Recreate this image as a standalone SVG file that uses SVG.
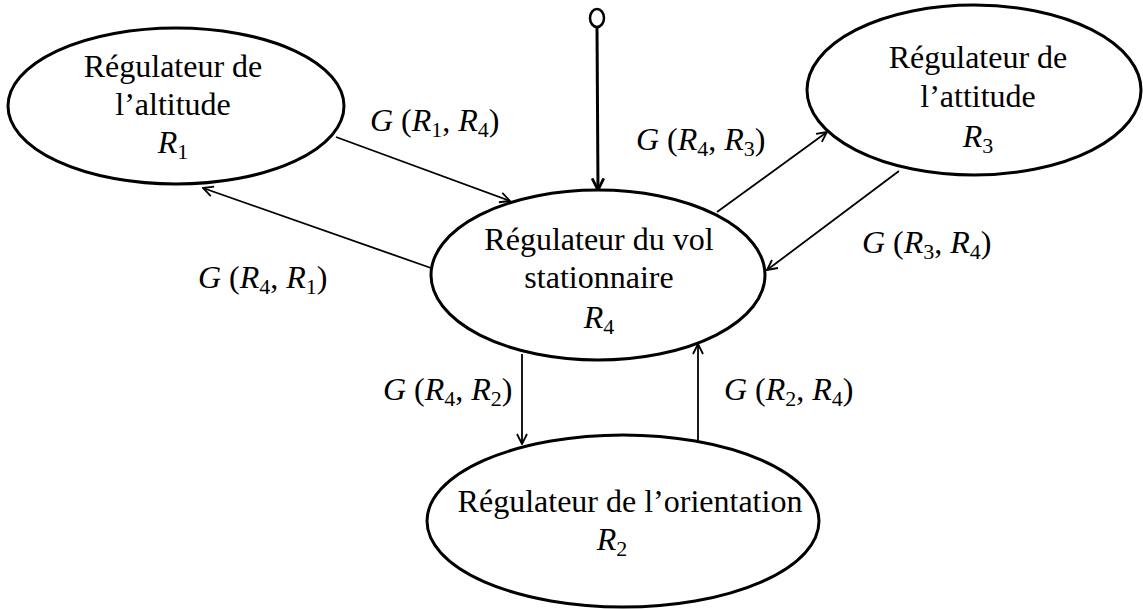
<svg xmlns="http://www.w3.org/2000/svg" width="1143" height="609" viewBox="0 0 1143 609">
<style>
.node{fill:#fff;stroke:#000;stroke-width:3}
.t{font-family:"Liberation Serif","Times New Roman",serif;font-size:32px;fill:#000;text-anchor:middle}
.m{font-family:"Liberation Serif","Times New Roman",serif;font-size:32px;fill:#000}
.i{font-style:italic}
.s{font-size:22px}
.c{fill:none;stroke:#000;stroke-width:1.8}
</style>
<defs>
<marker id="arr" viewBox="0 0 12 12" refX="11" refY="6" markerWidth="12" markerHeight="12" markerUnits="userSpaceOnUse" orient="auto">
<path d="M1,1 L11,6 L1,11" fill="none" stroke="#000" stroke-width="1.8"/>
</marker>
<marker id="arr2" viewBox="0 0 12 12" refX="11" refY="6" markerWidth="14" markerHeight="14" markerUnits="userSpaceOnUse" orient="auto">
<path d="M1,1 L11,6 L1,11" fill="none" stroke="#000" stroke-width="2.4"/>
</marker>
</defs>
<rect width="1143" height="609" fill="#fff"/>
<g id="connectors">
<ellipse cx="597" cy="18" rx="7" ry="9" fill="#fff" stroke="#000" stroke-width="2.5"/>
<line x1="597" y1="27" x2="598" y2="190" stroke="#000" stroke-width="3" marker-end="url(#arr2)"/>
<line class="c" x1="336" y1="137" x2="510" y2="201" marker-end="url(#arr)"/>
<line class="c" x1="431" y1="268" x2="203" y2="188" marker-end="url(#arr)"/>
<line class="c" x1="717" y1="212" x2="827" y2="132" marker-end="url(#arr)"/>
<line class="c" x1="899" y1="171" x2="767" y2="270" marker-end="url(#arr)"/>
<line class="c" x1="522" y1="354" x2="522" y2="444" marker-end="url(#arr)"/>
<line class="c" x1="698" y1="440" x2="698" y2="344" marker-end="url(#arr)"/>
<text class="m" x="370" y="131"><tspan class="i">G</tspan> (<tspan class="i">R</tspan><tspan class="s" dy="6">1</tspan><tspan dy="-6">, </tspan><tspan class="i">R</tspan><tspan class="s" dy="6">4</tspan><tspan dy="-6">)</tspan></text>
<text class="m" x="636" y="150"><tspan class="i">G</tspan> (<tspan class="i">R</tspan><tspan class="s" dy="6">4</tspan><tspan dy="-6">, </tspan><tspan class="i">R</tspan><tspan class="s" dy="6">3</tspan><tspan dy="-6">)</tspan></text>
<text class="m" x="862" y="253"><tspan class="i">G</tspan> (<tspan class="i">R</tspan><tspan class="s" dy="6">3</tspan><tspan dy="-6">, </tspan><tspan class="i">R</tspan><tspan class="s" dy="6">4</tspan><tspan dy="-6">)</tspan></text>
<text class="m" x="198" y="288"><tspan class="i">G</tspan> (<tspan class="i">R</tspan><tspan class="s" dy="6">4</tspan><tspan dy="-6">, </tspan><tspan class="i">R</tspan><tspan class="s" dy="6">1</tspan><tspan dy="-6">)</tspan></text>
<text class="m" x="383" y="400"><tspan class="i">G</tspan> (<tspan class="i">R</tspan><tspan class="s" dy="6">4</tspan><tspan dy="-6">, </tspan><tspan class="i">R</tspan><tspan class="s" dy="6">2</tspan><tspan dy="-6">)</tspan></text>
<text class="m" x="724" y="400"><tspan class="i">G</tspan> (<tspan class="i">R</tspan><tspan class="s" dy="6">2</tspan><tspan dy="-6">, </tspan><tspan class="i">R</tspan><tspan class="s" dy="6">4</tspan><tspan dy="-6">)</tspan></text>
</g>
<g id="R1">
<ellipse class="node" cx="176" cy="106" rx="168" ry="78"/>
<text class="t" x="173" y="77">Régulateur de</text>
<text class="t" x="173" y="115">l’altitude</text>
<text class="t" x="173" y="153"><tspan class="i">R</tspan><tspan class="s" dy="6">1</tspan></text>
</g>
<g id="R3">
<ellipse class="node" cx="974" cy="90" rx="167" ry="85"/>
<text class="t" x="978" y="68">Régulateur de</text>
<text class="t" x="978" y="107">l’attitude</text>
<text class="t" x="978" y="147"><tspan class="i">R</tspan><tspan class="s" dy="6">3</tspan></text>
</g>
<g id="R4">
<ellipse class="node" cx="598" cy="275" rx="167" ry="85"/>
<text class="t" x="599" y="250">Régulateur du vol</text>
<text class="t" x="599" y="288">stationnaire</text>
<text class="t" x="599" y="328"><tspan class="i">R</tspan><tspan class="s" dy="6">4</tspan></text>
</g>
<g id="R2">
<ellipse class="node" cx="623" cy="521" rx="196" ry="86"/>
<text class="t" x="630" y="512">Régulateur de l’orientation</text>
<text class="t" x="612" y="550"><tspan class="i">R</tspan><tspan class="s" dy="6">2</tspan></text>
</g>
</svg>
